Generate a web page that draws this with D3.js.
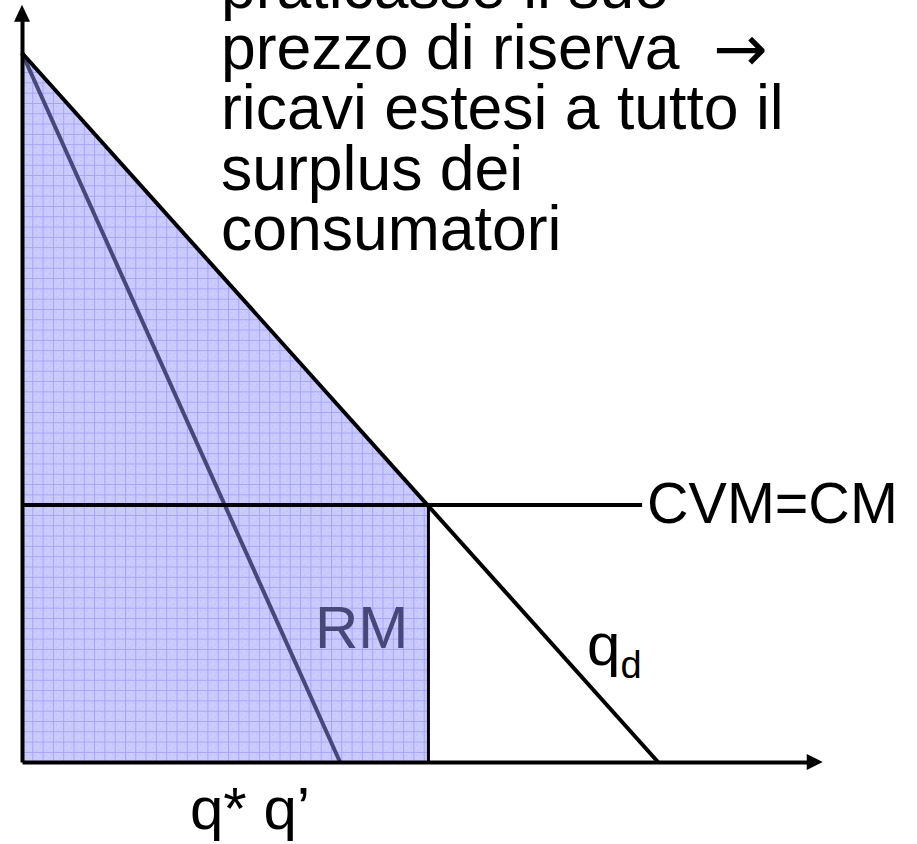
<!DOCTYPE html>
<html>
<head>
<meta charset="utf-8">
<script src="https://cdn.jsdelivr.net/npm/d3@7"></script>
<style>
  html, body { margin: 0; padding: 0; background: #fff; }
  svg { display: block; }
  text { font-family: "Liberation Sans", Arial, "DejaVu Sans", sans-serif; }
</style>
</head>
<body>
<svg id="chart" width="917" height="844"></svg>
<script>
// Model values (quantity on x, price on y)
const demandLine = [{q: 0, p: 100}, {q: 100, p: 0}];      // q_d
const marginalRevenue = [{q: 0, p: 100}, {q: 50, p: 0}];  // RM
const costLevel = [36.25];                                 // CVM = CM
const costLineEnd = [97.5];
const axisMax = {q: 125.9, p: 106.8};

const noteLines = [
  "praticasse il suo",
  "prezzo di riserva",
  "ricavi estesi a tutto il",
  "surplus dei",
  "consumatori"
];
const noteArrow = "\u2192";
const costLabel = "CVM=CM";
const revenueLabel = "RM";
const quantityLabels = ["q* q\u2019"];

const svg = d3.select("#chart");

const x = d3.scaleLinear().domain([0, 100]).range([22, 658]);
const y = d3.scaleLinear().domain([0, 100]).range([762, 53]);

// Light grid fill used for the revenue area
const defs = svg.append("defs");
const pat = defs.append("pattern")
  .attr("id", "gridFill")
  .attr("patternUnits", "userSpaceOnUse")
  .attr("x", 22).attr("y", 0)
  .attr("width", 10.3).attr("height", 10.3);
pat.append("rect").attr("width", 10.3).attr("height", 10.3).attr("fill", "#cbcbfe");
pat.append("path").attr("d", "M0,0.5 H10.3 M0.5,0 V10.3")
  .attr("stroke", "#a4a4f6").attr("stroke-width", 1).attr("fill", "none");
[[3, 3], [7, 6], [4, 8], [8, 2.5]].forEach(([dx, dy]) => {
  pat.append("rect").attr("x", dx).attr("y", dy).attr("width", 1).attr("height", 1).attr("fill", "#b6b6f2");
});

// Intersection of demand with the cost level
const c = costLevel[0];
const dSlope = (demandLine[1].p - demandLine[0].p) / (demandLine[1].q - demandLine[0].q);
const qStar = demandLine[0].q + (c - demandLine[0].p) / dSlope;

// Shaded area: consumer surplus triangle plus the cost rectangle
const area = [
  [0, demandLine[0].p], [qStar, c], [qStar, 0], [0, 0]
];
svg.append("path")
  .attr("d", d3.line().x(d => x(d[0])).y(d => y(d[1]))(area) + "Z")
  .attr("fill", "url(#gridFill)");

const line = d3.line().x(d => x(d.q)).y(d => y(d.p));

// Marginal revenue
svg.append("path").datum(marginalRevenue)
  .attr("d", line)
  .attr("stroke", "#47477a").attr("stroke-width", 4).attr("fill", "none");

// Cost level line
svg.append("line")
  .attr("x1", x(0)).attr("x2", x(costLineEnd[0]))
  .attr("y1", y(c)).attr("y2", y(c))
  .attr("stroke", "#000").attr("stroke-width", 4);

// Demand
svg.append("path").datum(demandLine)
  .attr("d", line)
  .attr("stroke", "#000").attr("stroke-width", 4).attr("fill", "none");

// Vertical edge of the rectangle
svg.append("line")
  .attr("x1", x(qStar) + 1).attr("x2", x(qStar) + 1)
  .attr("y1", y(c)).attr("y2", y(0))
  .attr("stroke", "#000").attr("stroke-width", 3);

// Axes with arrows
const xAxisScale = d3.scaleLinear().domain([0, axisMax.q]).range([x(0), x(axisMax.q) - 12]);
const yAxisScale = d3.scaleLinear().domain([0, axisMax.p]).range([y(0), y(axisMax.p) + 12]);

const gx = svg.append("g").attr("transform", `translate(0,${y(0)})`)
  .call(d3.axisBottom(xAxisScale).tickValues([]).tickSizeOuter(0));
const gy = svg.append("g").attr("transform", `translate(${x(0)},0)`)
  .call(d3.axisLeft(yAxisScale).tickValues([]).tickSizeOuter(0));
[gx, gy].forEach(g => g.select(".domain").attr("stroke", "#000").attr("stroke-width", 4));

const tipX = x(axisMax.q), tipY = y(axisMax.p);
svg.append("path")
  .attr("d", `M${tipX},${y(0)} L${tipX - 16},${y(0) - 8} L${tipX - 16},${y(0) + 8} Z`)
  .attr("fill", "#000");
svg.append("path")
  .attr("d", `M${x(0)},${tipY} L${x(0) - 8},${tipY + 17} L${x(0) + 8},${tipY + 17} Z`)
  .attr("fill", "#000");

// Labels
svg.append("text")
  .attr("x", 647).attr("y", 523)
  .attr("font-size", 57.5)
  .text(costLabel);

svg.append("text")
  .attr("x", 315).attr("y", 648)
  .attr("font-size", 60)
  .attr("fill", "#47477a")
  .text(revenueLabel);

const qd = svg.append("text").attr("x", 587).attr("y", 665).attr("font-size", 60);
qd.append("tspan").text("q");
qd.append("tspan").attr("font-size", 38).attr("dy", 13).text("d");

svg.append("text")
  .attr("x", 190).attr("y", 829)
  .attr("font-size", 60)
  .text(quantityLabels[0]);

const note = svg.append("text").attr("font-size", 62.5);
noteLines.forEach((t, i) => {
  note.append("tspan").attr("x", 221).attr("y", 8 + i * 60.5).text(t);
});

// Open-headed arrow after "riserva"
svg.append("text")
  .attr("x", 713).attr("y", 8 + 60.5 + 2)
  .style("font-family", "'DejaVu Sans', sans-serif")
  .style("font-size", "65px")
  .text(noteArrow);
</script>
</body>
</html>
